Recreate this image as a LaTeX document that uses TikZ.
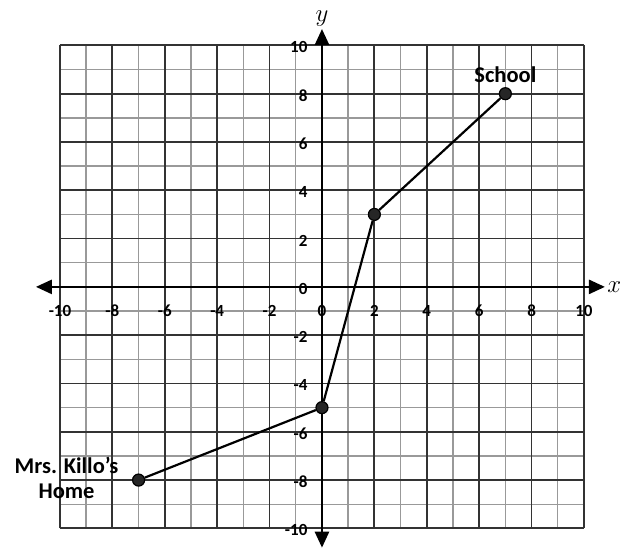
\documentclass[tikz,border=0pt]{standalone}
\usepackage{fontspec}
\setmainfont{Carlito}
\usetikzlibrary{arrows.meta,positioning}
\definecolor{gridMinor}{HTML}{999999}
\definecolor{gridMajor}{HTML}{333333}
\definecolor{dotFill}{HTML}{262626}

\begin{document}
\begin{tikzpicture}[
    x=26.2pt, y=24.15pt,
    every node/.style={font=\fontsize{17}{17}\selectfont\bfseries},
    minor line/.style={gridMinor, line width=1.4pt},
    major line/.style={gridMajor, line width=1.8pt},
    axis line/.style={black, line width=2.6pt, {Triangle[length=16pt,width=14pt]}-{Triangle[length=16pt,width=14pt]}},
    tick x/.style={anchor=center, inner sep=0pt},
    tick y/.style={anchor=east, inner sep=0pt, yshift=-2pt},
    place/.style={circle, draw=black, line width=1.2pt, fill=dotFill, minimum size=12pt, inner sep=0pt},
    place label/.style={font=\fontsize{22.5}{25}\selectfont\bfseries, align=center},
    route/.style={black, line width=2.2pt},
  ]
  \useasboundingbox (-12.29,-10.89) rectangle (11.49,11.88);

  % Grid
  \foreach \k in {-9,-7,...,9} {
    \draw[minor line] (\k,-10) -- (\k,10);
    \draw[minor line] (-10,\k) -- (10,\k);
  }
  \foreach \k in {-10,-8,...,10} {
    \draw[major line] (\k,-10) -- (\k,10);
    \draw[major line] (-10,\k) -- (10,\k);
  }

  % Axes
  \coordinate (xL) at (-10.92,0);
  \coordinate (xR) at (10.8,0);
  \coordinate (yB) at (0,-10.8);
  \coordinate (yT) at (0,10.68);
  \draw[axis line] (xL) -- (xR);
  \draw[axis line] (yB) -- (yT);
  \node[font=\fontsize{24}{24}\selectfont, anchor=west, inner sep=1pt] (xlab) at (10.85,0) {$x$};
  \node[font=\fontsize{24}{24}\selectfont, anchor=south, inner sep=1pt] (ylab) at (0,10.75) {$y$};

  % Tick labels
  \foreach \k in {-10,-8,...,10} {
    \node[tick x] (tx\k) at (\k,-1.0) {\k};
    \node[tick y] (ty\k) at (-0.55,\k) {\k};
  }

  % Route from home to school
  \node[place] (home) at (-7,-8) {};
  \node[place] (turnA) at (0,-5) {};
  \node[place] (turnB) at (2,3) {};
  \node[place] (school) at (7,8) {};
  \draw[route] (home) -- (turnA) -- (turnB) -- (school);

  \node[place label, above=1pt of school] (schoolLab) {School};
  \node[place label] (homeLab) at (-9.75,-7.9) {Mrs. Killo’s\\Home};
\end{tikzpicture}
\end{document}
